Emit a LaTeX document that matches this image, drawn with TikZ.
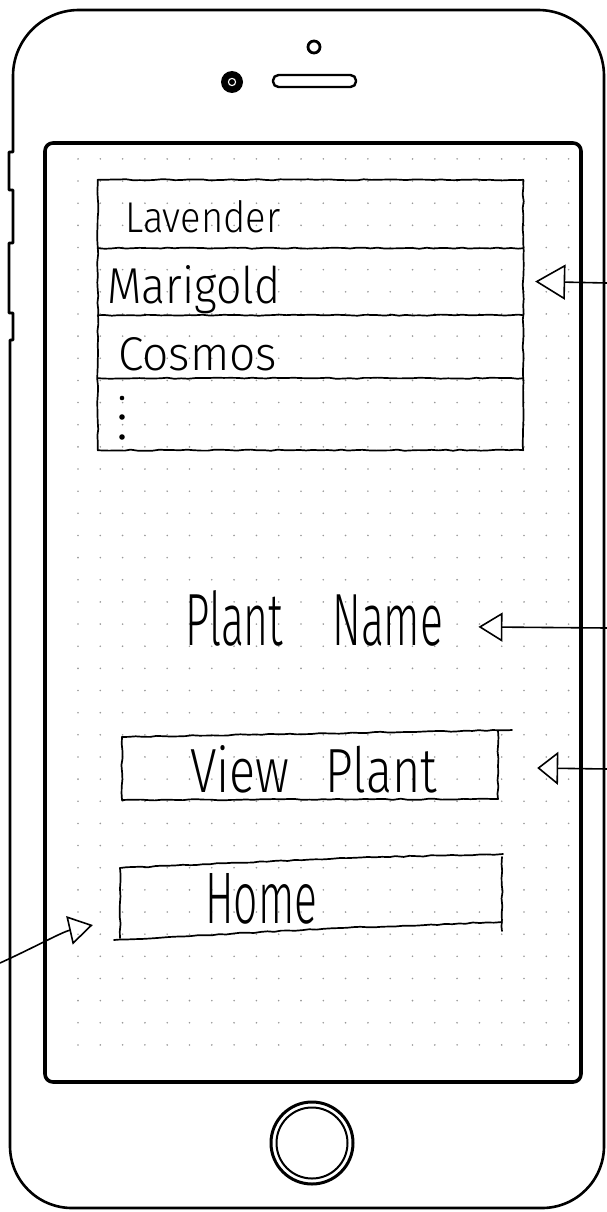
\documentclass[tikz,border=0pt]{standalone}
\usepackage{fontspec}
\newfontfamily\hand{Fira Sans Light}
\usetikzlibrary{arrows.meta,decorations.pathmorphing}
\definecolor{dotc}{gray}{0.6}
\begin{document}
\begin{tikzpicture}[x=1pt,y=-1pt,
  body/.style={line width=2.6pt, line join=round},
  screenline/.style={line width=3.6pt, rounded corners=8pt},
  sketch/.style={line width=1.7pt, decorate, decoration={random steps, segment length=7pt, amplitude=0.6pt}, line join=round, line cap=round},
  area/.style={inner sep=0pt, draw=none},
  lbl/.style={inner sep=0pt, anchor=base west},
  pointer/.style n args={2}{line width=1.6pt, line join=round, -{Triangle[open, length=#1, width=#2]}}
]
\useasboundingbox (0,0) rectangle (607,1212);
% dot grid of the paper
\foreach \i in {0,...,22}
  \foreach \j in {0,...,40}
    \fill[dotc] (78+22.3*\i, 158.9+22.15*\j) circle (0.9);

% phone body
\draw[body] (13,76) arc[start angle=180, end angle=270, radius=66]
  -- (538,10) arc[start angle=270, end angle=360, radius=66]
  -- (604,1146) arc[start angle=0, end angle=90, radius=62]
  -- (72,1208) arc[start angle=90, end angle=180, radius=62]
  -- (10,340) -- (13,340) -- (13,313) -- (9,313) -- (9,243) -- (13,243)
  -- (13,190) -- (9,190) -- (9,152) -- (13,152) -- cycle;
% screen
\draw[screenline] (45,143) rectangle (581,1082);
% camera, sensor, speaker
\fill (232,82) circle (11);
\draw[white, line width=1.1pt] (232,82) circle (3.6);
\draw[line width=2.8pt] (314,47) circle (6);
\draw[line width=2.4pt, rounded corners=5.5pt] (273,75) rectangle (356,87);
% home button
\draw[line width=3pt] (312,1143) circle (41);
\draw[line width=2pt] (312,1143) circle (35.5);

% list
\node[area, minimum width=425pt, minimum height=68pt] (r1) at (310.5,214) {};
\node[area, minimum width=425pt, minimum height=67pt] (r2) at (310.5,281.5) {};
\node[area, minimum width=425pt, minimum height=63pt] (r3) at (310.5,346.5) {};
\node[area, minimum width=425pt, minimum height=72pt] (r4) at (310.5,414) {};
\draw[sketch] (r1.north west) -- (r1.north east);
\draw[sketch] (r1.north east) -- (r4.south east);
\draw[sketch] (r4.south east) -- (r4.south west);
\draw[sketch] (r4.south west) -- (r1.north west);
\draw[sketch] (r1.south west) -- (r1.south east);
\draw[sketch] (r2.south west) -- (r2.south east);
\draw[sketch] (r3.south west) -- (r3.south east);
\node[lbl] (l1) at (125,232) {\resizebox{155pt}{32pt}{\hand Lavender}};
\node[lbl] (l2) at (107,303) {\resizebox{173pt}{38pt}{\hand Marigold}};
\node[lbl] (l3) at (118,370) {\resizebox{159pt}{33pt}{\hand Cosmos}};
\fill (122,398) circle (2.3);
\fill (122,417) circle (2.8);
\fill (122,437) circle (2.8);

% plant name
\node[lbl] (pname) at (185,645) {\resizebox{258pt}{55pt}{\hand Plant\hspace{1.15em}Name}};

% view plant button
\node[area, minimum width=376pt, minimum height=64pt] (vbox) at (310,767) {};
\draw[sketch] (122,800) -- (122,737);
\draw[sketch] (122,737) -- (512,730);
\draw[sketch] (498,731) -- (498,799);
\draw[sketch] (498,799) -- (122,800);
\node[lbl] (vtext) at (190,792) {\resizebox{247pt}{47pt}{\hand View\hspace{0.75em}Plant}};

% home button of the app
\node[area, minimum width=381pt, minimum height=70pt] (hbox) at (310.5,896) {};
\draw[sketch] (120,938) -- (120,868);
\draw[sketch] (120,868) -- (340,858);
\draw[sketch] (340,858) -- (503,854);
\draw[sketch] (502,857) -- (502,931);
\draw[sketch] (114,940) -- (340,928);
\draw[sketch] (340,928) -- (502,922);
\node[lbl] (htext) at (205,923) {\resizebox{112pt}{50pt}{\hand Home}};

% pointers
\coordinate (s1) at (607,283);
\coordinate (s2) at (607,628);
\coordinate (s3) at (607,769);
\coordinate (s4) at (0,963);
\draw[pointer={30pt}{35pt}] (s1) -- ([xshift=12pt]r2.east);
\draw[pointer={24pt}{29pt}] (s2) -- ([shift={(35,9)}]pname.east);
\draw[pointer={21pt}{33pt}] (s3) -- ([shift={(39,1)}]vbox.east);
\draw[pointer={24pt}{29pt}] (s4) .. controls (35,947) and (62,932) .. ([shift={(-27,29)}]hbox.west);
\end{tikzpicture}
\end{document}
